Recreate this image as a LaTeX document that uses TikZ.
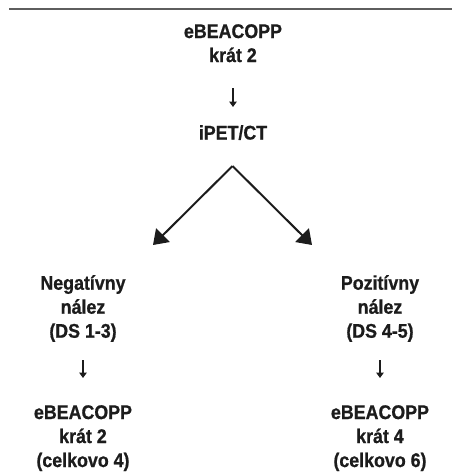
\documentclass[tikz,border=0pt]{standalone}
\usepackage{fontspec}
\newfontfamily\flowfont{Liberation Sans}[FakeStretch=0.9, BoldFeatures={FakeBold=0.8}]
\usetikzlibrary{arrows.meta}
\definecolor{inkdark}{HTML}{1C1C1C}
\definecolor{rulegray}{HTML}{5E5E5E}
\tikzset{
  label text/.style={font=\flowfont\bfseries\fontsize{19.8}{24}\selectfont,
    text=inkdark, align=center, inner sep=0pt, anchor=north},
  glyph arrow/.style={draw=inkdark, line width=1.5pt,
    -{Triangle[length=5.5pt,width=7.5pt]}},
  fork arrow/.style={draw=inkdark, line width=2pt,
    -{Triangle[length=14pt,width=19pt]}},
}
\begin{document}
\begin{tikzpicture}[x=1pt,y=-1pt]
  \useasboundingbox (0,0) rectangle (452,475);
  % header rule
  \draw[rulegray, line width=1.2pt] (9,9) -- (452,9);

  % first cycles and interim scan
  \node[label text] (start) at (233,24) {eBEACOPP\\krát 2};
  \node[label text] (pet) at (233,125) {iPET/CT};

  % scan outcomes
  \node[label text] (neg) at (83,275) {Negatívny\\nález\\(DS 1-3)};
  \node[label text] (pos) at (380,275) {Pozitívny\\nález\\(DS 4-5)};

  % continuation for each outcome
  \node[label text] (negplan) at (83,405) {eBEACOPP\\krát 2\\(celkovo 4)};
  \node[label text] (posplan) at (380,405) {eBEACOPP\\krát 4\\(celkovo 6)};

  % short arrows
  \draw[glyph arrow, shorten <=26pt, shorten >=18pt] (start.south) -- (pet.north);
  \draw[glyph arrow, shorten <=18pt, shorten >=27pt] (neg.south) -- (negplan.north);
  \draw[glyph arrow, shorten <=18pt, shorten >=27pt] (pos.south) -- (posplan.north);

  % branching arrows
  \coordinate (fork) at (232.5,166);
  \coordinate (lefttip) at (153,245);
  \coordinate (righttip) at (312,245);
  \draw[fork arrow] (fork) -- (lefttip);
  \draw[fork arrow] (fork) -- (righttip);
\end{tikzpicture}
\end{document}
